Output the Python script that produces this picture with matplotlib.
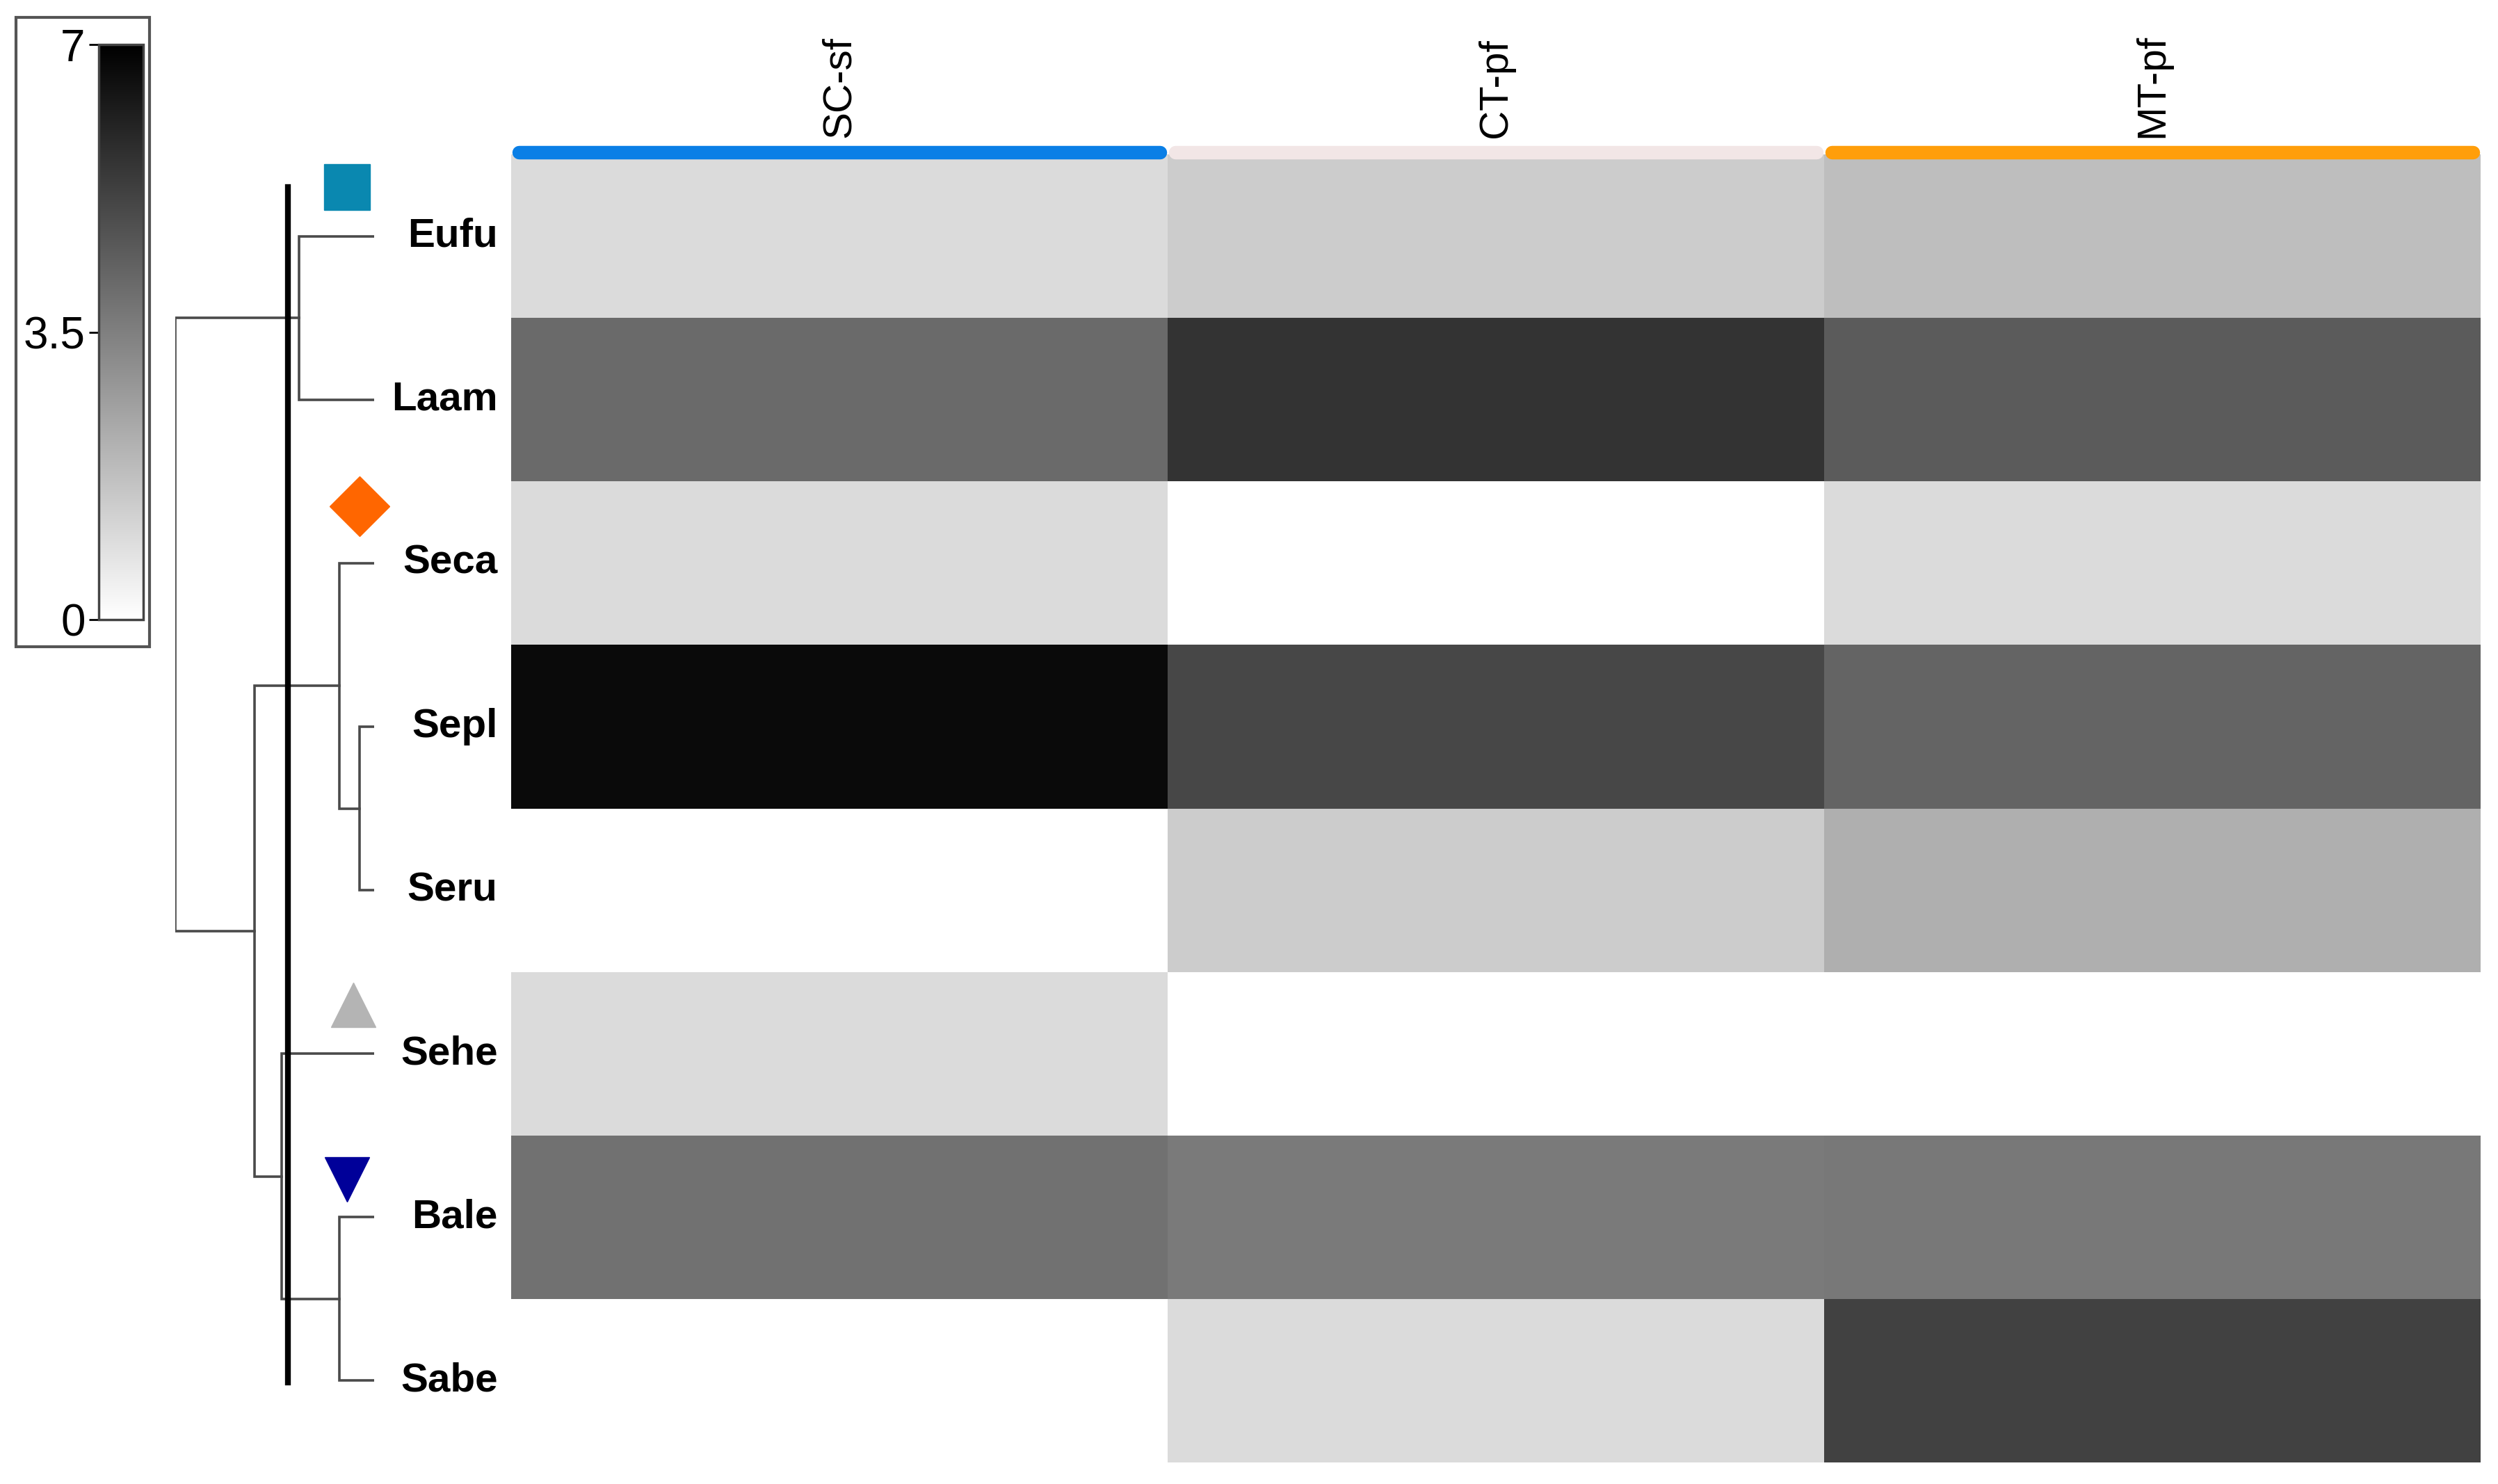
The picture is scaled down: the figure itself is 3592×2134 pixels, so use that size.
import numpy as np
import matplotlib
matplotlib.use("Agg")
import matplotlib.pyplot as plt
from matplotlib.colors import LinearSegmentedColormap
from matplotlib.patches import Rectangle

plt.rcParams['font.family'] = ['Liberation Sans', 'DejaVu Sans']

# ---------------- data ----------------
taxa = ["Eufu", "Laam", "Seca", "Sepl", "Seru", "Sehe", "Bale", "Sabe"]
conditions = ["SC-sf", "CT-pf", "MT-pf"]
sc_sf = [1.0, 4.1, 1.0, 6.7, 0.0, 1.0, 3.9, 0.0]
ct_pf = [1.4, 5.6, 0.0, 5.05, 1.4, 0.0, 3.65, 1.0]
mt_pf = [1.8, 4.5, 1.0, 4.25, 2.2, 0.0, 3.7, 5.2]
cbar_ticks = [0, 3.5, 7]
cbar_ticklabels = ["0", "3.5", "7"]
header_colors = ["#0a7fe6", "#f2e6e6", "#ff9e0a"]

# dendrogram: (left, right, height)
tree = (("Eufu", "Laam", 47),
        (("Seca", ("Sepl", "Seru", 9), 22),
         ("Sehe", ("Bale", "Sabe", 22), 58), 75),
        125)
root_cut = 54
group_markers = [("s", "#0a88b0", 17, 0.2, 48),
                 ("D", "#ff6600", 9, 2.15, 44),
                 ("^", "#b4b4b4", 13, 5.2, 46),
                 ("v", "#000099", 17, 6.27, 46)]

W, H = 3592, 2134
fig = plt.figure(figsize=(W / 100, H / 100), dpi=100)


def ax_at(x0, y0, x1, y1):
    return fig.add_axes([x0 / W, 1 - y1 / H, (x1 - x0) / W, (y1 - y0) / H])


cmap = LinearSegmentedColormap.from_list("wb", ["#ffffff", "#000000"])

# ---------------- heatmap ----------------
ax_h = ax_at(735, 222, 3567, 2103)
data = np.array([sc_sf, ct_pf, mt_pf]).T
mesh = ax_h.pcolormesh(np.arange(len(conditions) + 1), np.arange(len(taxa) + 1),
                       data, cmap=cmap, vmin=0, vmax=7)
ax_h.set_xlim(0, len(conditions))
ax_h.set_ylim(len(taxa), 0)
for s in ax_h.spines.values():
    s.set_visible(False)
ax_h.set_xticks([])
ax_h.set_yticks(np.arange(len(taxa)) + 0.5 - 0.025, labels=taxa)
ax_h.tick_params(axis="y", length=0, pad=14, labelsize=42)
for lab in ax_h.get_yticklabels():
    lab.set_fontweight("bold")
for j, (c, col) in enumerate(zip(conditions, header_colors)):
    ax_h.text(j + 0.5, -0.1, c, rotation=90, ha="center", va="bottom",
              fontsize=42, clip_on=False)
    ax_h.plot([j + 0.012, j + 0.988], [-0.012, -0.012], color=col, lw=14,
              solid_capstyle="round", clip_on=False)

# ---------------- dendrogram ----------------
ax_d = ax_at(252, 222, 538, 2103)
ax_d.set_xlim(125, 0)
ax_d.set_ylim(len(taxa), 0)
ax_d.axis("off")
lc = "#4a4a4a"


def draw(node):
    if isinstance(node, str):
        return taxa.index(node) + 0.5, 0
    left, right, h = node
    y1, h1 = draw(left)
    y2, h2 = draw(right)
    ax_d.plot([h1, h, h, h2], [y1, y1, y2, y2], color=lc, lw=2.6,
              solid_joinstyle="miter")
    return (y1 + y2) / 2, h


ry, rh = draw(tree)
ax_d.plot([root_cut, root_cut], [0.2, 7.51], color="black", lw=6)
for m, c, hx, y, ms in group_markers:
    ax_d.plot(hx, y, marker=m, color=c, ms=ms, mec=c, clip_on=False,
              linestyle="none")

# ---------------- colorbar ----------------
cax = ax_at(142, 64, 206, 891)
cb = fig.colorbar(mesh, cax=cax, ticks=cbar_ticks)
cb.ax.set_yticklabels(cbar_ticklabels)
cax.yaxis.set_ticks_position("left")
cax.tick_params(labelsize=46, length=10, width=2, pad=4)
cb.outline.set_linewidth(2.5)
cb.outline.set_edgecolor("#444444")
fig.patches.append(Rectangle((23 / W, 1 - 930 / H), (215 - 23) / W, (930 - 25) / H,
                             transform=fig.transFigure, fill=False,
                             ec="#555555", lw=3))

fig.savefig("out.png", dpi=100)
